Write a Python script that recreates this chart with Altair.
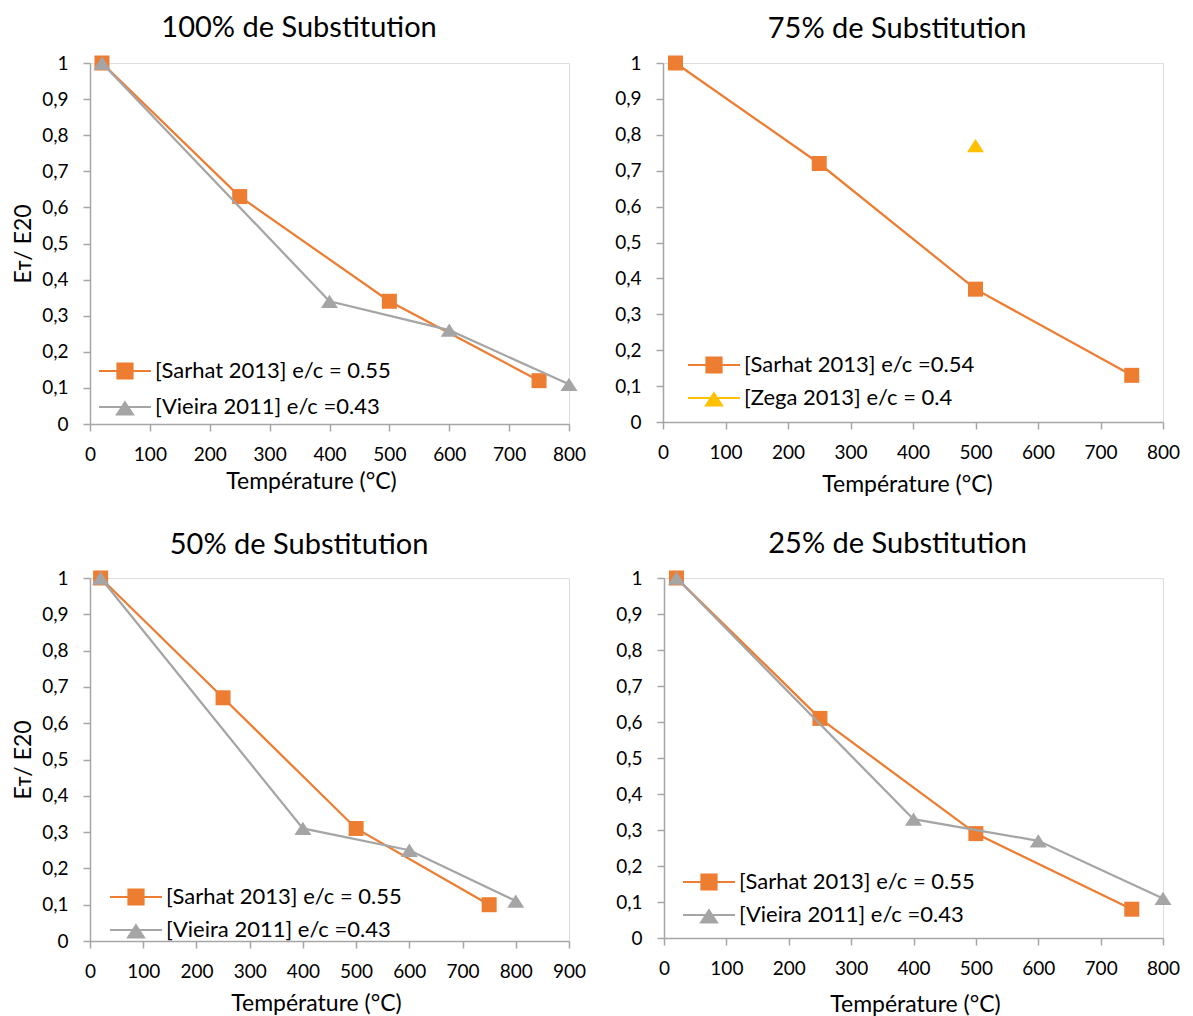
import altair as alt
import pandas as pd

# ---------------- data ----------------
temps_sarhat = [20, 250, 500, 750]
temps_vieira = [20, 400, 600, 800]
temps_zega = [500]

p100_sarhat = [1.00, 0.63, 0.34, 0.12]
p100_vieira = [1.00, 0.34, 0.26, 0.11]
p75_sarhat = [1.00, 0.72, 0.37, 0.13]
p75_zega = [0.77]
p50_sarhat = [1.00, 0.67, 0.31, 0.10]
p50_vieira = [1.00, 0.31, 0.25, 0.11]
p25_sarhat = [1.00, 0.61, 0.29, 0.08]
p25_vieira = [1.00, 0.33, 0.27, 0.11]

titles = ["100% de Substitution", "75% de Substitution",
          "50% de Substitution", "25% de Substitution"]
x_ticks_800 = [0, 100, 200, 300, 400, 500, 600, 700, 800]
x_ticks_900 = [0, 100, 200, 300, 400, 500, 600, 700, 800, 900]
y_ticks = [0, 0.1, 0.2, 0.3, 0.4, 0.5, 0.6, 0.7, 0.8, 0.9, 1.0]
x_title = "Température (°C)"
y_title = "Eᴛ/ E20"

ORANGE = "#ED7D31"
GRAY = "#A5A5A5"
YELLOW = "#FFC000"
AXIS = "#A6A6A6"
FONT = "Lato"

SQ = "M-1,-1H1V1H-1Z"
TRI = "M0,-0.78L1,0.78H-1Z"
LEG_SQ = "M-3.25,0H3.25M-0.95,-0.95H0.95V0.95H-0.95Z"
LEG_TRI = "M-3.25,0H3.25M0,-0.6L1,0.95H-1Z"

IND = dict(shape="independent", fill="independent", stroke="independent")


def series_df(xs, ys):
    return pd.DataFrame({"T": xs, "R": ys})


def panel(title, series, xmax, xticks, width, height, ytitle_pad,
          leg_x, leg_y, row_pad, xt_pad, xt_x, title_offset):
    xs = alt.Scale(domain=[0, xmax], nice=False, zero=False)
    ys = alt.Scale(domain=[0, 1], nice=False)
    xax = alt.Axis(values=xticks, title=x_title, grid=False,
                   domainColor=AXIS, domainWidth=1.5, tickColor=AXIS,
                   tickWidth=1.5, tickSize=7, labelPadding=14,
                   labelFont=FONT, labelFontSize=19, labelColor="black",
                   titleFont=FONT, titleFontSize=23, titleFontWeight="normal",
                   titleColor="black", titlePadding=xt_pad, titleX=xt_x,
                   labelFlush=False)
    yax_kw = dict(values=y_ticks, grid=False, domainColor=AXIS, domainWidth=1.5,
                  tickColor=AXIS, tickWidth=1.5, tickSize=7, labelPadding=15,
                  labelExpr="replace(format(datum.value, '~g'), '.', ',')",
                  labelFont=FONT, labelFontSize=19, labelColor="black")
    if ytitle_pad is not None:
        yax = alt.Axis(title=y_title, titleFont=FONT, titleFontSize=23,
                       titleFontWeight="normal", titleColor="black",
                       titlePadding=ytitle_pad, **yax_kw)
    else:
        yax = alt.Axis(title=None, **yax_kw)
    layers = []
    names, leg_shapes, leg_colors = [], [], []
    for name, tx, ry, color, kind in series:
        df = series_df(tx, ry)
        enc = dict(x=alt.X("T:Q", scale=xs, axis=xax),
                   y=alt.Y("R:Q", scale=ys, axis=yax))
        if len(tx) > 1:
            layers.append(alt.Chart(df).mark_line(color=color, strokeWidth=2.25)
                          .encode(**enc))
        if kind == "sq":
            layers.append(alt.Chart(df).mark_point(shape=SQ, size=225, filled=True,
                                                   color=color, opacity=1)
                          .encode(**enc))
        else:
            layers.append(alt.Chart(df).mark_point(shape=TRI, size=289, filled=True,
                                                   color=color, opacity=1)
                          .encode(**enc))
        names.append(name)
        leg_shapes.append(LEG_SQ if kind == "sq" else LEG_TRI)
        leg_colors.append(color)

    leg = alt.Legend(title=None, orient="none", legendX=leg_x, legendY=leg_y,
                     labelFont=FONT, labelFontSize=22, labelColor="black",
                     symbolSize=256, symbolStrokeWidth=2, labelOffset=19,
                     rowPadding=row_pad, padding=0, symbolOpacity=1,
                     labelLimit=400)
    leg_df = pd.DataFrame({"series": names})
    layers.append(
        alt.Chart(leg_df).mark_point(filled=True, opacity=1, strokeWidth=2)
        .encode(
            shape=alt.Shape("series:N", scale=alt.Scale(domain=names, range=leg_shapes), legend=leg),
            fill=alt.Fill("series:N", scale=alt.Scale(domain=names, range=leg_colors), legend=leg),
            stroke=alt.Stroke("series:N", scale=alt.Scale(domain=names, range=leg_colors), legend=leg),
        )
        .transform_filter("false")
    )
    return alt.layer(*layers).properties(
        width=width, height=height,
        title=alt.TitleParams(title, font=FONT, fontSize=29, fontWeight="normal",
                              color="black", anchor="middle", frame="bounds",
                              offset=title_offset),
    )


p1 = panel(titles[0],
           [("[Sarhat 2013] e/c = 0.55", temps_sarhat, p100_sarhat, ORANGE, "sq"),
            (" [Vieira 2011] e/c =0.43", temps_vieira, p100_vieira, GRAY, "tri")],
           800, x_ticks_800, 479, 361, 6, 24, 297, 13, 6, 221, 11)
p2 = panel(titles[1],
           [("[Sarhat 2013] e/c =0.54", temps_sarhat, p75_sarhat, ORANGE, "sq"),
            ("[Zega 2013] e/c = 0.4", temps_zega, p75_zega, YELLOW, "tri")],
           800, x_ticks_800, 500, 359, None, 40, 291, 10, 11, 244, 10)
p3 = panel(titles[2],
           [("[Sarhat 2013]  e/c = 0.55", temps_sarhat, p50_sarhat, ORANGE, "sq"),
            ("[Vieira 2011] e/c =0.43", temps_vieira, p50_vieira, GRAY, "tri")],
           900, x_ticks_900, 479, 363, 6, 35, 308, 10, 11, 226, 9)
p4 = panel(titles[3],
           [("[Sarhat 2013] e/c = 0.55", temps_sarhat, p25_sarhat, ORANGE, "sq"),
            ("[Vieira 2011] e/c =0.43", temps_vieira, p25_vieira, GRAY, "tri")],
           800, x_ticks_800, 499, 360, None, 34, 293, 10, 15, 251, 10)

chart = alt.vconcat(
    alt.hconcat(p1, p2, spacing=27).resolve_legend(**IND).resolve_scale(**IND),
    alt.hconcat(p3, p4, spacing=28).resolve_legend(**IND).resolve_scale(**IND),
    spacing=32,
).resolve_legend(**IND).resolve_scale(**IND).configure_view(
    stroke="#D9D9D9", strokeWidth=2).configure(background="white").properties(
    padding={"left": 4, "top": 5, "right": 0, "bottom": 0})

chart.save("out.html", embed_options={"renderer": "svg", "actions": False})
